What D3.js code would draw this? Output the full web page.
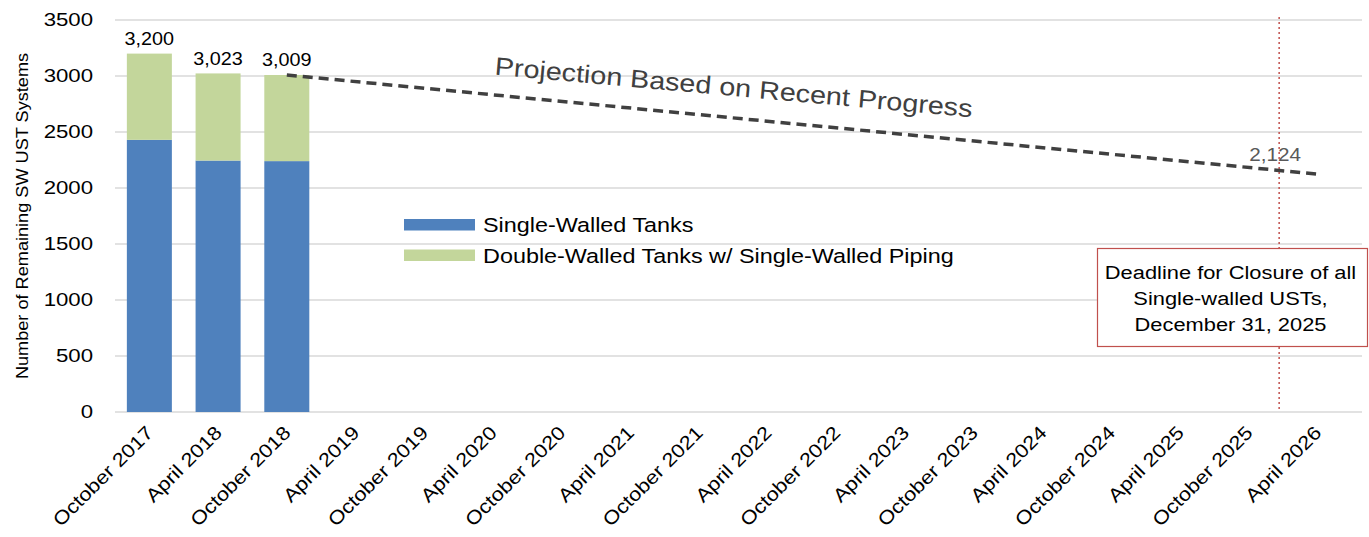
<!DOCTYPE html>
<html>
<head>
<meta charset="utf-8">
<script src="https://cdn.jsdelivr.net/npm/d3@7"></script>
<style>
  body { margin: 0; background: #fff; }
  svg { font-family: "Liberation Sans", Arial, sans-serif; }
</style>
</head>
<body>
<div id="chart"></div>
<script>
// categories (half-year steps)
var periods = ["October 2017", "April 2018", "October 2018", "April 2019", "October 2019",
  "April 2020", "October 2020", "April 2021", "October 2021", "April 2022", "October 2022",
  "April 2023", "October 2023", "April 2024", "October 2024", "April 2025", "October 2025", "April 2026"];

// observed counts
var barPeriods = ["October 2017", "April 2018", "October 2018"];
var singleWalled = [2430, 2245, 2240];
var doubleWalledSWPiping = [770, 778, 769];
var totals = [3200, 3023, 3009];

// projection endpoints
var projPeriods = ["October 2018", "April 2026"];
var projValues = [3009, 2124];

var yTicks = [0, 500, 1000, 1500, 2000, 2500, 3000, 3500];

var width = 1369, height = 537;
var margin = {top: 20, right: 7, bottom: 125, left: 115};
var w = width - margin.left - margin.right;
var h = height - margin.top - margin.bottom;

// the text in the original is a bit wider than normal Arial
var sx = 1.2;

var svg = d3.select("#chart").append("svg")
  .attr("width", width)
  .attr("height", height);

var g = svg.append("g")
  .attr("transform", "translate(" + margin.left + "," + margin.top + ")");

var x = d3.scaleBand()
  .domain(periods)
  .range([0, w - 10])
  .paddingInner(0.345)
  .paddingOuter(0.1725);

var y = d3.scaleLinear()
  .domain([0, 3500])
  .range([h, 0]);

var xc = d => x(d) + x.bandwidth() / 2;

// gridlines
g.selectAll(".grid")
  .data(yTicks)
  .enter().append("line")
  .attr("x1", 0)
  .attr("x2", w)
  .attr("y1", d => y(d))
  .attr("y2", d => y(d))
  .attr("stroke", "#d9d9d9")
  .attr("stroke-width", 1.5);

// y axis labels
g.selectAll(".ylab")
  .data(yTicks)
  .enter().append("text")
  .attr("transform", d => "translate(-22," + y(d) + ") scale(1.2,1)")
  .attr("dy", "0.35em")
  .attr("text-anchor", "end")
  .attr("font-size", 18.5)
  .attr("fill", "#000")
  .text(d => d);

// stacked bars
var stackRows = barPeriods.map((p, i) => ({period: p, single: singleWalled[i], dbl: doubleWalledSWPiping[i]}));
var series = d3.stack().keys(["single", "dbl"])(stackRows);
var colors = {single: "#4f81bd", dbl: "#c3d69b"};

g.selectAll(".series")
  .data(series)
  .enter().append("g")
  .attr("fill", d => colors[d.key])
  .selectAll("rect")
  .data(d => d)
  .enter().append("rect")
  .attr("x", d => x(d.data.period))
  .attr("width", x.bandwidth())
  .attr("y", d => y(d[1]))
  .attr("height", d => y(d[0]) - y(d[1]));

// totals above bars
g.selectAll(".total")
  .data(totals)
  .enter().append("text")
  .attr("transform", (d, i) => "translate(" + xc(barPeriods[i]) + "," + (y(d) - 8.5) + ") scale(1.1,1)")
  .attr("text-anchor", "middle")
  .attr("font-size", 18)
  .text(d => d3.format(",")(d));

// x axis labels
g.selectAll(".xlab")
  .data(periods)
  .enter().append("text")
  .attr("transform", d => "translate(" + (xc(d) + 5) + "," + (h + 22) + ") rotate(-45) scale(1.15,1)")
  .attr("text-anchor", "end")
  .attr("font-size", 19)
  .text(d => d);

// deadline line (Dec 31 2025, between Oct 2025 and Apr 2026)
var deadlineX = xc("October 2025") + 0.44 * x.step();
g.append("line")
  .attr("x1", deadlineX)
  .attr("x2", deadlineX)
  .attr("y1", -3)
  .attr("y2", h)
  .attr("stroke", "#c0504d")
  .attr("stroke-width", 1.5)
  .attr("stroke-dasharray", "2,3");

// projection
var proj = projPeriods.map((p, i) => [xc(p), y(projValues[i])]);
g.append("path")
  .attr("d", d3.line()(proj))
  .attr("fill", "none")
  .attr("stroke", "#404040")
  .attr("stroke-width", 3.5)
  .attr("stroke-dasharray", "10,6");

var slope = (proj[1][1] - proj[0][1]) / (proj[1][0] - proj[0][0]);
var ang = Math.atan(slope) * 180 / Math.PI;
var tx = 618;
g.append("text")
  .attr("transform", "translate(" + tx + "," + (proj[0][1] + (tx - proj[0][0]) * slope - 22) + ") rotate(" + (ang - 0.4) + ") scale(1.15,1)")
  .attr("text-anchor", "middle")
  .attr("font-size", 25)
  .attr("fill", "#404040")
  .text("Projection Based on Recent Progress");

g.append("text")
  .attr("transform", "translate(" + (deadlineX - 4) + "," + (y(projValues[1]) - 13) + ") scale(1.15,1)")
  .attr("text-anchor", "middle")
  .attr("font-size", 18)
  .attr("fill", "#595959")
  .text(d3.format(",")(projValues[1]));

// deadline box
var box = svg.append("g").attr("transform", "translate(1097,248)");
box.append("rect")
  .attr("x", 0.5).attr("y", 0.5)
  .attr("width", 270).attr("height", 98)
  .attr("fill", "#fff")
  .attr("stroke", "#c0504d")
  .attr("stroke-width", 1.2);
["Deadline for Closure of all", "Single-walled USTs,", "December 31, 2025"].forEach(function(t, i) {
  box.append("text")
    .attr("transform", "translate(133.5," + (31 + i * 26) + ") scale(1.15,1)")
    .attr("text-anchor", "middle")
    .attr("font-size", 19)
    .text(t);
});

// legend
var legend = svg.append("g").attr("transform", "translate(404,219)");
[["Single-Walled Tanks", colors.single], ["Double-Walled Tanks w/ Single-Walled Piping", colors.dbl]].forEach(function(d, i) {
  legend.append("rect")
    .attr("x", 0).attr("y", i * 30.5)
    .attr("width", 71).attr("height", 11.5)
    .attr("fill", d[1]);
  legend.append("text")
    .attr("transform", "translate(79," + (i * 30.5 + 13) + ") scale(" + sx + ",1)")
    .attr("font-size", 19.5)
    .text(d[0]);
});

// y axis title
svg.append("text")
  .attr("transform", "translate(27.5,216) rotate(-90) scale(1.1,1)")
  .attr("text-anchor", "middle")
  .attr("font-size", 16.5)
  .text("Number of Remaining SW UST Systems");
</script>
</body>
</html>
